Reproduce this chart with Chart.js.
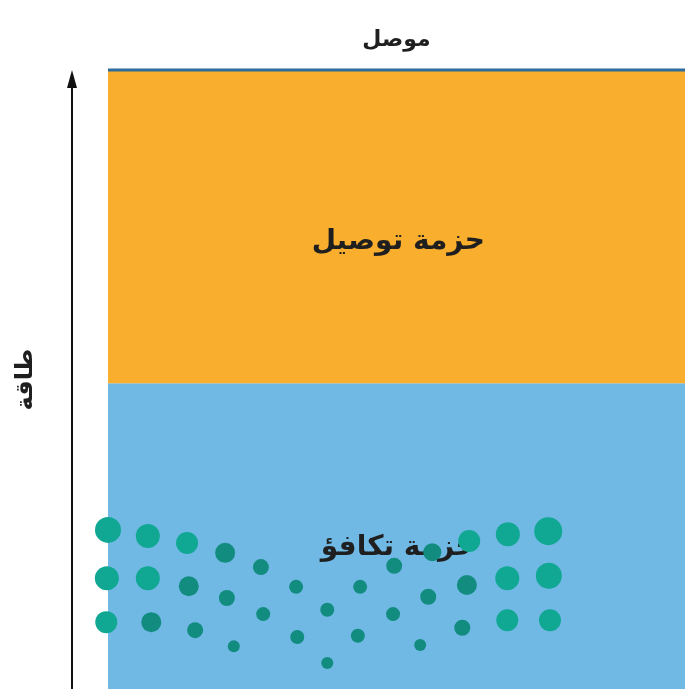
<!DOCTYPE html>
<html>
<head>
<meta charset="utf-8">
<script src="https://cdn.jsdelivr.net/npm/chart.js@4/dist/chart.umd.min.js"></script>
<style>
  html, body { margin: 0; padding: 0; background: #fff; overflow: hidden; }
  canvas { display: block; }
</style>
</head>
<body>
<canvas id="bands" width="685" height="689"></canvas>
<script>
// Band layout (energy axis runs 0..100)
const chartTitle = 'موصل';
const axisTitle = 'طاقة';
const bandNames = ['حزمة توصيل', 'حزمة تكافؤ'];
const bandEdges = [0, 49.4, 100];          // valence bottom, gap line, conduction top
const labelX = [50.3, 50.3];
const labelY = [72.2, 22.8];

// Overlaid dot pattern (x, y in axis units, r in px)
const dotX = [0, 6.9, 13.7, 20.3, 26.5, -0.2, 6.9, 14.0, 20.6, -0.3, 7.5, 15.1, 26.9, 21.8,
  32.6, 43.7, 49.6, 38.0, 49.4, 32.8, 43.3, 38.0, 54.1,
  56.2, 62.6, 69.3, 76.3, 62.2, 69.2, 76.4, 55.5, 69.2, 76.6, 61.4];
const dotY = [25.7, 24.7, 23.6, 22.0, 19.7, 17.9, 17.9, 16.6, 14.7, 10.8, 10.8, 9.5, 12.1, 6.9,
  16.5, 16.5, 19.9, 12.8, 12.1, 8.4, 8.6, 4.2, 7.1,
  22.1, 23.9, 25.0, 25.5, 16.8, 17.9, 18.3, 14.9, 11.1, 11.1, 9.9];
const dotR = [13, 12, 11, 10, 8, 12, 12, 10, 8, 11, 10, 8, 7, 6,
  7, 7, 8, 7, 7, 7, 7, 6, 6,
  9, 11, 12, 14, 10, 12, 13, 8, 11, 11, 8];

const FONT = 'DejaVu Sans';

// Bands run edge to edge, so don't let bubble/line sizes pad the chart area
Chart.BubbleController.prototype.getMaxOverflow = () => false;
Chart.LineController.prototype.getMaxOverflow = () => false;

// Writes the band names, drawn just before the dots so the dots sit on top
const bandLabelPlugin = {
  id: 'bandLabels',
  beforeDatasetDraw(chart, args) {
    if (args.index !== 2) return;
    const { ctx, scales: { x, y } } = chart;
    ctx.save();
    ctx.font = `bold 28px "${FONT}"`;
    ctx.fillStyle = '#1f1f1f';
    ctx.textAlign = 'center';
    ctx.textBaseline = 'middle';
    bandNames.forEach((name, i) => {
      ctx.fillText(name, x.getPixelForValue(labelX[i]), y.getPixelForValue(labelY[i]));
    });
    ctx.restore();
  }
};

// Energy arrow beside the bands
const arrowPlugin = {
  id: 'energyArrow',
  afterDraw(chart) {
    const { ctx, chartArea } = chart;
    const ax = chartArea.left - 36;
    ctx.save();
    ctx.strokeStyle = '#111';
    ctx.fillStyle = '#111';
    ctx.lineWidth = 2;
    ctx.beginPath();
    ctx.moveTo(ax, chartArea.bottom);
    ctx.lineTo(ax, chartArea.top + 12);
    ctx.stroke();
    ctx.beginPath();
    ctx.moveTo(ax, chartArea.top);
    ctx.lineTo(ax - 5, chartArea.top + 18);
    ctx.lineTo(ax + 5, chartArea.top + 18);
    ctx.closePath();
    ctx.fill();
    ctx.restore();
  }
};

const ctx = document.getElementById('bands').getContext('2d');

new Chart(ctx, {
  type: 'line',
  data: {
    datasets: [
      {
        // conduction band
        data: [{ x: 0, y: bandEdges[2] }, { x: 100, y: bandEdges[2] }],
        fill: { value: bandEdges[1] },
        backgroundColor: '#f9ae2e',
        borderColor: '#2e6d9c',
        borderWidth: 3,
        pointRadius: 0,
        clip: false,
        order: 1
      },
      {
        // valence band
        data: [{ x: 0, y: bandEdges[1] }, { x: 100, y: bandEdges[1] }],
        fill: { value: bandEdges[0] },
        backgroundColor: '#6fb9e4',
        borderWidth: 0,
        pointRadius: 0,
        order: 2
      },
      {
        type: 'bubble',
        data: dotX.map((v, i) => ({ x: v, y: dotY[i], r: dotR[i] })),
        backgroundColor: (c) => (c.raw && c.raw.r >= 11 ? '#10a892' : '#138c80'),
        borderWidth: 0,
        clip: false,
        order: 0
      }
    ]
  },
  options: {
    responsive: false,
    animation: false,
    events: [],
    layout: { padding: 0 },
    scales: {
      x: {
        type: 'linear',
        min: 0,
        max: 100,
        display: false
      },
      y: {
        type: 'linear',
        min: 0,
        max: 100,
        display: true,
        grid: { display: false, drawTicks: false },
        border: { display: false },
        ticks: { display: false },
        title: {
          display: true,
          text: axisTitle,
          color: '#1f1f1f',
          font: { family: FONT, size: 24, weight: 'bold' },
          padding: { top: 11.6, bottom: 67.6 }
        }
      }
    },
    plugins: {
      legend: { display: false },
      tooltip: { enabled: false },
      title: {
        display: true,
        text: chartTitle,
        fullSize: false,
        color: '#1f1f1f',
        font: { family: FONT, size: 22, weight: 'bold' },
        padding: { top: 26.8, bottom: 16.8 }
      }
    }
  },
  plugins: [bandLabelPlugin, arrowPlugin]
});
</script>
</body>
</html>
